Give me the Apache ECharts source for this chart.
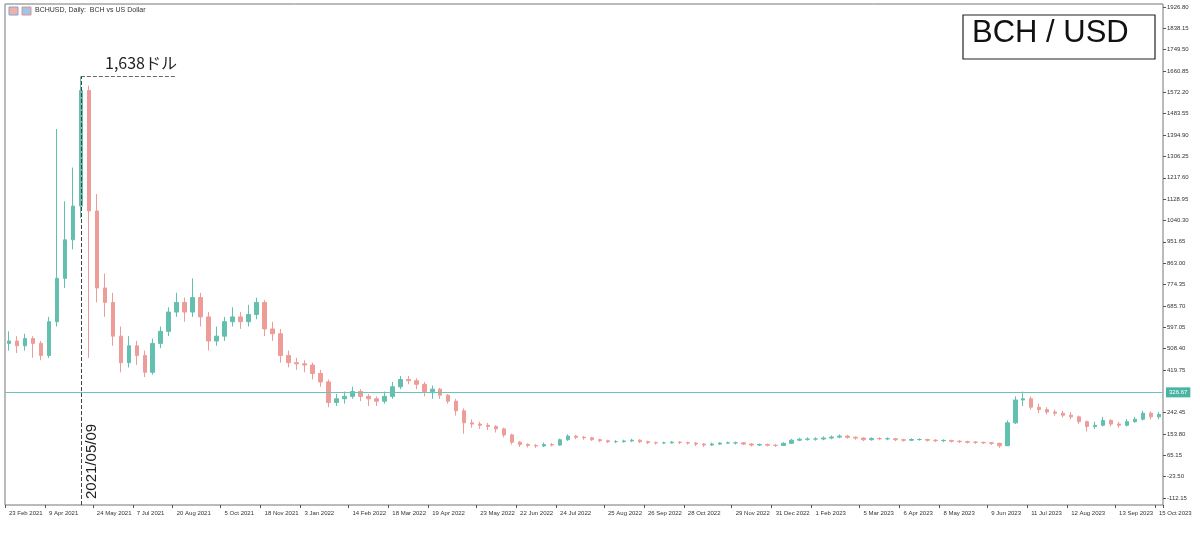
<!DOCTYPE html>
<html><head><meta charset="utf-8">
<script src="https://cdn.jsdelivr.net/npm/echarts@6/dist/echarts.min.js"></script>
<style>html,body{margin:0;padding:0;background:#fff}#c{width:1200px;height:535px}</style>
</head><body><div id="c"></div>
<script>
// [open, close, low, high]
const candles = [
[530,540,500,580],[540,520,490,560],[520,550,500,570],[550,530,470,560],[530,480,460,540],
[480,620,470,640],[620,800,600,1420],[800,960,760,1120],[960,1100,920,1260],[1100,1580,1050,1638],
[1580,1080,470,1600],[1080,760,700,1150],[760,700,640,820],[700,560,520,740],[560,450,410,600],
[450,520,430,560],[520,480,440,540],[480,410,390,500],[410,530,400,550],[530,580,510,600],
[580,660,560,680],[660,700,640,740],[700,660,620,720],[660,720,640,800],[720,640,600,740],
[640,540,500,660],[540,560,520,600],[560,620,540,640],[620,640,600,680],[640,620,590,660],
[620,650,600,690],[650,700,630,720],[700,590,560,710],[590,570,540,620],[570,480,450,590],
[480,450,430,500],[450,445,420,470],[445,440,410,460],[440,405,380,450],[405,370,350,420],
[370,285,265,380],[285,300,270,320],[300,310,280,330],[310,330,300,350],[330,310,290,340],
[310,300,270,320],[300,290,270,310],[290,310,280,330],[310,350,300,370],[350,380,340,395],
[380,375,360,395],[375,360,340,385],[360,330,310,370],[330,340,300,355],[340,315,300,345],
[315,290,280,320],[290,250,230,300],[250,200,155,260],[200,195,180,215],[195,190,175,205],
[190,185,170,200],[185,175,160,190],[175,150,140,180],[150,120,110,155],[120,110,100,125],
[110,106,98,115],[106,104,96,112],[104,110,100,118],[110,108,102,116],[108,130,105,135],
[130,145,125,152],[145,140,132,150],[140,138,130,146],[138,130,125,142],[130,126,120,134],
[126,122,116,130],[122,122,116,128],[122,125,118,130],[125,128,120,134],[128,122,116,132],
[122,118,112,126],[118,117,110,122],[117,117,112,122],[117,120,114,125],[120,118,112,124],
[118,116,110,122],[116,112,104,120],[112,108,100,116],[108,112,104,118],[112,116,108,120],
[116,117,112,122],[117,117,110,122],[117,112,108,120],[112,108,102,116],[108,110,104,114],
[110,107,102,114],[107,106,100,112],[106,115,104,120],[115,128,112,134],[128,132,124,138],
[132,133,126,140],[133,133,126,140],[133,137,128,144],[137,141,132,148],[141,145,136,152],
[145,140,134,150],[140,137,130,144],[137,130,124,140],[130,135,126,140],[135,134,128,140],
[134,134,128,140],[134,130,124,138],[130,128,122,134],[128,131,124,136],[131,131,126,136],
[131,128,122,134],[128,126,120,132],[126,127,120,132],[127,124,118,130],[124,122,116,128],
[122,120,114,126],[120,119,112,124],[119,117,112,122],[117,115,108,120],[115,105,96,118],
[105,200,104,210],[200,295,195,310],[295,300,270,330],[300,265,255,310],[265,255,240,280],
[255,245,235,265],[245,240,230,255],[240,232,222,250],[232,225,215,245],[225,205,195,230],
[205,185,165,210],[185,190,175,205],[190,210,185,225],[210,195,185,215],[195,190,180,205],
[190,205,185,215],[205,215,200,225],[215,240,210,250],[240,225,215,248],[225,235,215,245]
];
const xLabels = ["23 Feb 2021","9 Apr 2021","24 May 2021","7 Jul 2021","20 Aug 2021","5 Oct 2021","18 Nov 2021","3 Jan 2022","14 Feb 2022","18 Mar 2022","19 Apr 2022","23 May 2022","22 Jun 2022","24 Jul 2022","25 Aug 2022","26 Sep 2022","28 Oct 2022","29 Nov 2022","31 Dec 2022","1 Feb 2023","5 Mar 2023","6 Apr 2023","8 May 2023","9 Jun 2023","11 Jul 2023","12 Aug 2023","13 Sep 2023","15 Oct 2023"];
const yTicks = [-112.15,-23.50,65.15,153.80,242.45,419.75,508.40,597.05,685.70,774.35,863.00,951.65,1040.30,1128.95,1217.60,1306.25,1394.90,1483.55,1572.20,1660.85,1749.50,1838.15,1926.80];
const currentPrice = 326.67;
const peakPrice = 1638;
const peakIndex = 9;
const peakDate = "2021/05/09";
const yMin = -141, yMax = 1939;

const N = candles.length;
const labelIdx = {};
xLabels.forEach((l,k)=>{ labelIdx[Math.round(k*(N-1)/(xLabels.length-1))] = l; });
const cats = candles.map((_,i)=> labelIdx[i] !== undefined ? labelIdx[i] : ('#'+i));
const isLab = (i)=> labelIdx[i] !== undefined;

const chart = echarts.init(document.getElementById('c'));
chart.setOption({
  animation:false,
  grid:{left:5,right:37,top:4,bottom:30,show:true,borderColor:'#777',borderWidth:1,containLabel:false,outerBoundsMode:'none'},
  xAxis:{type:'category',data:cats,boundaryGap:true,
    axisLine:{show:false,onZero:false},
    axisTick:{show:true,interval:(i)=>isLab(i),length:3,lineStyle:{color:'#555'}},
    axisLabel:{interval:(i)=>isLab(i),fontSize:6,color:'#333',margin:5,fontFamily:'Liberation Sans',align:'left',
      hideOverlap:false,formatter:(v)=>v.startsWith('#')?'':v},
    splitLine:{show:false}},
  yAxis:{type:'value',position:'right',min:yMin,max:yMax,
    axisLine:{show:false},
    axisTick:{show:true,customValues:yTicks,length:3,lineStyle:{color:'#555'}},
    axisLabel:{customValues:yTicks,fontSize:6,color:'#333',margin:4,fontFamily:'Liberation Sans',
      formatter:(v)=>v.toFixed(2)},
    splitLine:{show:false}},
  series:[{type:'candlestick',data:candles,barWidth:4,barMaxWidth:4,
    itemStyle:{color:'#63bfae',color0:'#ee9c98',borderColor:'#63bfae',borderColor0:'#ee9c98',borderWidth:1},
    markLine:{symbol:'none',silent:true,animation:false,
      data:[
        [{coord:[peakIndex,peakPrice],lineStyle:{type:'dashed',color:'#666',width:1},label:{show:false}},
         {coord:[peakIndex+12,peakPrice]}],
        [{coord:[peakIndex,yMin],lineStyle:{type:'dashed',color:'#444',width:1},
          label:{show:true,position:'insideStartBottom',formatter:peakDate,fontSize:15,color:'#222',distance:[6,3]}},
         {coord:[peakIndex,peakPrice]}],
        {yAxis:currentPrice,lineStyle:{type:'solid',color:'#6cc4b6',width:1.2},
         label:{show:true,position:'end',formatter:currentPrice.toFixed(2),fontSize:6,color:'#fff',
           backgroundColor:'#4bb3a2',padding:[2,3],distance:3}}
      ]}
  }],
  graphic:[
    {type:'text',left:105,top:55,style:{text:peakPrice.toLocaleString('en-US')+'ドル',fontSize:16,fill:'#222',fontFamily:'Noto Sans CJK JP'}},
    {type:'rect',shape:{x:963,y:15,width:192,height:44},style:{fill:'#fff',stroke:'#222',lineWidth:1.2}},
    {type:'text',left:972,top:18,style:{text:'BCH / USD',fontSize:31,fill:'#111',fontFamily:'Liberation Sans'}},
    {type:'rect',shape:{x:9,y:7,width:9,height:8},style:{fill:'#f3b0a8',stroke:'#7aa6d8'}},
    {type:'rect',shape:{x:22,y:7,width:9,height:8},style:{fill:'#9ec6ea',stroke:'#e39090'}},
    {type:'text',left:35,top:7,style:{text:'BCHUSD, Daily:  BCH vs US Dollar',fontSize:7,fill:'#333',fontFamily:'Liberation Sans'}}
  ]
});
</script></body></html>
